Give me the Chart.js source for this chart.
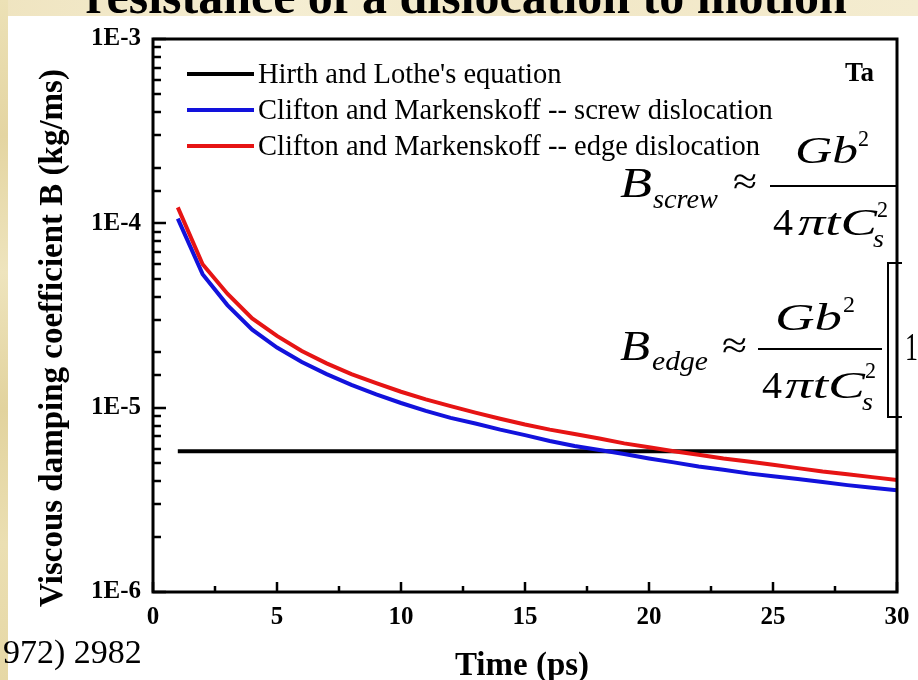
<!DOCTYPE html>
<html>
<head>
<meta charset="utf-8">
<script src="https://cdn.jsdelivr.net/npm/chart.js@4.4.0/dist/chart.umd.min.js"></script>
<style>
  html, body { margin: 0; padding: 0; background: #fff; }
  #wrap { width: 918px; height: 680px; }
</style>
</head>
<body>
<div id="wrap"><canvas id="dampingChart" width="918" height="680"></canvas></div>
<script>
// Damping coefficient B (kg/ms) against time (ps) for Ta
const timePs = [1, 2, 3, 4, 5, 6, 7, 8, 9, 10, 11, 12, 13, 14, 15,
                16, 17, 18, 19, 20, 21, 22, 23, 24, 25, 26, 27, 28, 29, 30];
const screwB = [1.06e-4, 5.3e-5, 3.6e-5, 2.65e-5, 2.12e-5, 1.77e-5, 1.52e-5, 1.33e-5, 1.18e-5, 1.06e-5,
                9.6e-6, 8.8e-6, 8.2e-6, 7.6e-6, 7.1e-6, 6.6e-6, 6.2e-6, 5.9e-6, 5.6e-6, 5.3e-6,
                5.05e-6, 4.8e-6, 4.6e-6, 4.4e-6, 4.25e-6, 4.1e-6, 3.95e-6, 3.8e-6, 3.68e-6, 3.56e-6];
const edgeB = [1.22e-4, 6.0e-5, 4.15e-5, 3.05e-5, 2.45e-5, 2.03e-5, 1.74e-5, 1.52e-5, 1.36e-5, 1.22e-5,
               1.11e-5, 1.02e-5, 9.4e-6, 8.7e-6, 8.1e-6, 7.6e-6, 7.2e-6, 6.8e-6, 6.4e-6, 6.1e-6,
               5.8e-6, 5.55e-6, 5.3e-6, 5.1e-6, 4.9e-6, 4.7e-6, 4.5e-6, 4.35e-6, 4.2e-6, 4.05e-6];
const hirthTime = [1, 30];
const hirthB = [5.8e-6, 5.8e-6];

const seriesNames = [
  "Hirth and Lothe's equation",
  'Clifton and Markenskoff -- screw dislocation',
  'Clifton and Markenskoff -- edge dislocation'
];
const seriesColors = ['#000000', '#1212dc', '#e61414'];

const xTickValues = [0, 5, 10, 15, 20, 25, 30];
const xTickLabels = ['0', '5', '10', '15', '20', '25', '30'];
const yTickValues = [1e-6, 1e-5, 1e-4, 1e-3];
const yTickLabels = ['1E-6', '1E-5', '1E-4', '1E-3'];

const SERIF = '"Liberation Serif", "Times New Roman", serif';

function toPoints(xs, ys) {
  return xs.map((x, i) => ({ x: x, y: ys[i] }));
}

// text squeezed/stretched into a box [x0, x1] on a baseline
function boxText(ctx, str, x0, x1, baseline, font) {
  ctx.save();
  ctx.font = font;
  ctx.textAlign = 'left';
  ctx.textBaseline = 'alphabetic';
  const w = ctx.measureText(str).width;
  ctx.translate(x0, baseline);
  ctx.scale((x1 - x0) / w, 1);
  ctx.fillText(str, 0, 0);
  ctx.restore();
}

function hLine(ctx, x0, x1, y, lw) {
  ctx.lineWidth = lw;
  ctx.beginPath();
  ctx.moveTo(x0, y);
  ctx.lineTo(x1, y);
  ctx.stroke();
}

// slide background, cut-off heading and reference fragment
const slideBackdrop = {
  id: 'slideBackdrop',
  beforeDraw(chart) {
    const ctx = chart.ctx;
    const h = chart.height;
    ctx.save();
    ctx.fillStyle = '#ffffff';
    ctx.fillRect(0, 0, chart.width, h);

    const band = ctx.createLinearGradient(0, 0, chart.width, 0);
    band.addColorStop(0, '#efe4c0');
    band.addColorStop(0.3, '#f5eed3');
    band.addColorStop(0.6, '#f1e7c6');
    band.addColorStop(1, '#f4ecd0');
    ctx.fillStyle = band;
    ctx.fillRect(0, 0, chart.width, 16);

    const strip = ctx.createLinearGradient(0, 0, 0, h);
    strip.addColorStop(0, '#ece1b6');
    strip.addColorStop(0.2, '#e4d5a2');
    strip.addColorStop(0.4, '#eee4bd');
    strip.addColorStop(0.6, '#e2d39e');
    strip.addColorStop(0.8, '#ebdfb2');
    strip.addColorStop(1, '#e6d8a6');
    ctx.fillStyle = strip;
    ctx.fillRect(0, 0, 8, h);

    ctx.fillStyle = '#000';
    ctx.font = 'bold 50px ' + SERIF;
    ctx.textAlign = 'center';
    ctx.textBaseline = 'alphabetic';
    ctx.fillText('resistance of a dislocation to motion', 466, 13);

    ctx.font = '34px ' + SERIF;
    ctx.textAlign = 'left';
    ctx.fillText('972) 2982', 3, 663);
    ctx.restore();
  }
};

// frame, inward ticks, labels, legend and the two formulas
const plotDecor = {
  id: 'plotDecor',
  afterDatasetsDraw(chart) {
    const { ctx, chartArea: a, scales: { x, y } } = chart;
    ctx.save();
    ctx.strokeStyle = '#000';
    ctx.fillStyle = '#000';

    ctx.lineWidth = 2.5;
    ctx.beginPath();
    y.ticks.forEach(t => {
      const py = Math.round(y.getPixelForValue(t.value));
      const e = Math.log10(t.value);
      const len = Math.abs(e - Math.round(e)) < 1e-6 ? 13 : 8;
      ctx.moveTo(a.left, py);
      ctx.lineTo(a.left + len, py);
    });
    x.ticks.forEach(t => {
      const px = Math.round(x.getPixelForValue(t.value));
      const len = t.value % 5 === 0 ? 10 : 6;
      ctx.moveTo(px, a.bottom);
      ctx.lineTo(px, a.bottom - len);
    });
    ctx.stroke();

    ctx.lineWidth = 3;
    ctx.strokeRect(a.left, a.top, a.right - a.left, a.bottom - a.top);

    // tick labels
    ctx.font = 'bold 25px ' + SERIF;
    ctx.textAlign = 'right';
    ctx.textBaseline = 'middle';
    yTickValues.forEach((v, i) => {
      ctx.fillText(yTickLabels[i], 141, y.getPixelForValue(v));
    });
    ctx.font = 'bold 25px ' + SERIF;
    ctx.textAlign = 'center';
    xTickValues.forEach((v, i) => {
      ctx.fillText(xTickLabels[i], x.getPixelForValue(v), 618);
    });

    // axis titles
    ctx.font = 'bold 33px ' + SERIF;
    ctx.textBaseline = 'alphabetic';
    ctx.fillText('Time (ps)', 522, 675);
    ctx.save();
    ctx.translate(53, 338);
    ctx.rotate(-Math.PI / 2);
    ctx.textBaseline = 'middle';
    ctx.fillText('Viscous damping coefficient B (kg/ms)', 0, 0);
    ctx.restore();

    // legend
    ctx.font = '28.5px ' + SERIF;
    ctx.textAlign = 'left';
    ctx.textBaseline = 'alphabetic';
    seriesNames.forEach((name, i) => {
      const ly = 74 + i * 36;
      ctx.strokeStyle = seriesColors[i];
      hLine(ctx, 187, 254, ly, 4);
      ctx.fillText(name, 258, ly + 9);
    });
    ctx.strokeStyle = '#000';

    ctx.font = 'bold 27px ' + SERIF;
    ctx.fillText('Ta', 845, 81);

    // B_screw ~ G b^2 / (4 pi t Cs^2)
    const it = s => 'italic ' + s + 'px ' + SERIF;
    const rm = s => s + 'px ' + SERIF;
    boxText(ctx, 'B', 620, 652, 197, it(42));
    boxText(ctx, 'screw', 653, 718, 208, it(27));
    boxText(ctx, '\u2248', 733, 757, 194, rm(38));
    hLine(ctx, 770, a.right, 186, 2);
    boxText(ctx, 'Gb', 795, 858, 163, it(37));
    boxText(ctx, '2', 858, 869, 146, rm(24));
    boxText(ctx, '4', 773, 793, 235, rm(37));
    boxText(ctx, '\u03c0tC', 798, 877, 235, it(37));
    boxText(ctx, '2', 877, 888, 217, rm(24));
    boxText(ctx, 's', 873, 884, 247, it(26));

    // B_edge ~ G b^2 / (4 pi t Cs^2) [1 ...
    boxText(ctx, 'B', 620, 650, 360, it(42));
    boxText(ctx, 'edge', 652, 708, 370, it(27));
    boxText(ctx, '\u2248', 722, 747, 358, rm(38));
    hLine(ctx, 758, 882, 349, 2);
    boxText(ctx, 'Gb', 775, 842, 330, it(37));
    boxText(ctx, '2', 843, 855, 312, rm(24));
    boxText(ctx, '4', 762, 782, 398, rm(37));
    boxText(ctx, '\u03c0tC', 785, 865, 398, it(37));
    boxText(ctx, '2', 865, 876, 378, rm(24));
    boxText(ctx, 's', 862, 873, 410, it(26));
    ctx.lineWidth = 2;
    ctx.beginPath();
    ctx.moveTo(902, 263);
    ctx.lineTo(888, 263);
    ctx.lineTo(888, 417);
    ctx.lineTo(902, 417);
    ctx.stroke();
    boxText(ctx, '1', 905, 918, 360, rm(40));

    ctx.restore();
  }
};

const ctx = document.getElementById('dampingChart').getContext('2d');
const dampingChart = new Chart(ctx, {
  type: 'line',
  data: {
    datasets: [
      {
        label: seriesNames[0],
        data: toPoints(hirthTime, hirthB),
        borderColor: seriesColors[0],
        borderWidth: 4,
        order: 2
      },
      {
        label: seriesNames[1],
        data: toPoints(timePs, screwB),
        borderColor: seriesColors[1],
        borderWidth: 4,
        order: 1
      },
      {
        label: seriesNames[2],
        data: toPoints(timePs, edgeB),
        borderColor: seriesColors[2],
        borderWidth: 4,
        order: 0
      }
    ]
  },
  options: {
    responsive: false,
    animation: false,
    layout: {
      padding: { left: 153, top: 39, right: 21, bottom: 88 }
    },
    elements: {
      point: { radius: 0 },
      line: { tension: 0, fill: false, borderCapStyle: 'butt' }
    },
    plugins: {
      legend: { display: false },
      tooltip: { enabled: false }
    },
    scales: {
      x: {
        type: 'linear',
        display: false,
        min: 0,
        max: 30,
        ticks: { stepSize: 2.5 }
      },
      y: {
        type: 'logarithmic',
        display: false,
        min: 1e-6,
        max: 1e-3
      }
    }
  },
  plugins: [slideBackdrop, plotDecor]
});
</script>
</body>
</html>
